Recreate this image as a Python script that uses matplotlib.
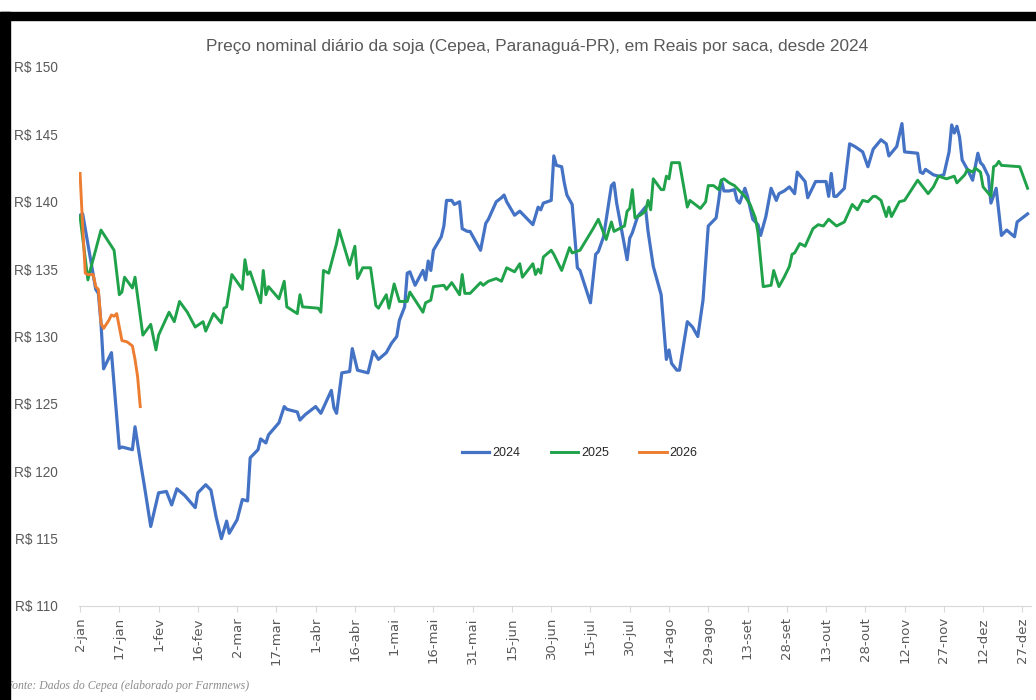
import matplotlib
matplotlib.use("Agg")
import matplotlib.pyplot as plt
from matplotlib.patches import Rectangle

# day of year (2024 calendar) and price in R$ per saca
days_2024 = [2, 3, 8, 9, 10, 11, 14, 17, 18, 22, 23, 25, 27, 29, 32, 35, 37, 39, 42, 46,
             47, 50, 52, 54, 56, 58, 59, 62, 64, 66, 67, 70, 71, 73, 74, 78, 80, 81, 85, 86,
             88, 92, 94, 98, 99, 100, 102, 105, 106, 108, 112, 114, 116, 119, 121, 123, 124, 126, 127, 128,
             130, 133, 134, 135, 136, 137, 140, 141, 142, 144, 145, 147, 148, 150, 151, 155, 157, 158, 161, 163,
             164, 165, 168, 170, 172, 175, 177, 178, 179, 182, 183, 184, 186, 187, 188, 190, 192, 193, 197, 199,
             200, 202, 205, 206, 207, 211, 212, 213, 215, 218, 219, 221, 224, 226, 227, 228, 230, 231, 234, 236,
             238, 240, 242, 245, 246, 247, 248, 250, 252, 253, 254, 256, 257, 259, 261, 262, 264, 266, 268, 269,
             271, 273, 275, 276, 279, 280, 283, 287, 288, 289, 290, 291, 294, 296, 298, 301, 303, 305, 308, 310,
             311, 314, 316, 317, 322, 323, 324, 325, 328, 330, 332, 334, 335, 336, 337, 338, 339, 341, 343, 345,
             346, 347, 349, 350, 352, 354, 356, 359, 360, 364]
price_2024 = [139.0, 139.1, 133.5, 133.2, 131.0, 127.6, 128.8, 121.7, 121.8, 121.6, 123.3, 120.8, 118.4, 115.9, 118.4, 118.5, 117.5, 118.7, 118.2, 117.3,
              118.4, 119.0, 118.6, 116.6, 115.0, 116.3, 115.4, 116.4, 117.9, 117.8, 121.0, 121.6, 122.4, 122.1, 122.7, 123.6, 124.8, 124.6, 124.4, 123.8,
              124.2, 124.8, 124.3, 126.0, 124.7, 124.3, 127.3, 127.4, 129.1, 127.5, 127.3, 128.9, 128.3, 128.8, 129.5, 130.0, 131.2, 132.2, 134.7, 134.8,
              133.8, 134.9, 134.2, 135.6, 134.9, 136.4, 137.4, 138.2, 140.1, 140.1, 139.8, 140.0, 138.0, 137.8, 137.8, 136.4, 138.4, 138.7, 140.0, 140.3,
              140.5, 140.0, 139.0, 139.3, 138.9, 138.3, 139.6, 139.4, 139.9, 140.1, 143.4, 142.7, 142.6, 141.4, 140.5, 139.8, 135.1, 134.9, 132.5, 136.1,
              136.3, 137.4, 141.2, 141.4, 139.9, 135.7, 137.3, 137.7, 138.9, 139.6, 137.8, 135.2, 133.1, 128.3, 129.0, 128.0, 127.5, 127.5, 131.1, 130.7,
              130.0, 132.7, 138.2, 138.8, 140.1, 141.6, 140.8, 140.8, 140.9, 140.1, 139.9, 141.0, 140.4, 138.7, 138.3, 137.5, 138.9, 141.0, 140.1, 140.6,
              140.8, 141.1, 140.6, 142.2, 141.5, 140.3, 141.5, 141.5, 140.4, 142.1, 140.4, 140.4, 141.0, 144.3, 144.1, 143.7, 142.6, 143.9, 144.6, 144.3,
              143.4, 144.1, 145.8, 143.7, 143.6, 142.2, 142.1, 142.4, 142.0, 141.9, 142.0, 143.7, 145.7, 145.1, 145.6, 144.8, 143.1, 142.4, 141.6, 143.6,
              142.9, 142.7, 141.9, 139.9, 141.0, 137.5, 137.9, 137.4, 138.5, 139.1]

days_2025 = [2, 5, 6, 10, 12, 15, 17, 18, 19, 22, 23, 26, 29, 31, 32, 36, 38, 40, 43, 46,
             49, 50, 53, 56, 57, 58, 60, 64, 65, 66, 67, 71, 72, 73, 74, 78, 80, 81, 85, 86,
             87, 93, 94, 95, 97, 100, 101, 105, 107, 108, 110, 113, 115, 116, 119, 120, 122, 124, 127, 128,
             130, 133, 134, 136, 137, 141, 142, 144, 147, 148, 149, 151, 155, 156, 158, 161, 163, 165, 168, 170,
             171, 175, 176, 177, 178, 179, 182, 183, 186, 189, 190, 193, 198, 200, 202, 203, 205, 206, 210, 211,
             212, 213, 214, 216, 218, 219, 220, 221, 224, 225, 226, 227, 228, 231, 234, 235, 239, 241, 242, 244,
             246, 247, 248, 250, 252, 254, 256, 258, 260, 261, 263, 266, 267, 269, 271, 273, 274, 275, 277, 279,
             282, 284, 286, 288, 291, 294, 297, 299, 301, 303, 305, 306, 308, 310, 311, 312, 315, 317, 322, 326,
             328, 330, 333, 336, 337, 340, 341, 343, 344, 346, 347, 350, 351, 352, 353, 354, 361, 364]
price_2025 = [138.9, 134.2, 135.0, 137.9, 137.3, 136.4, 133.1, 133.3, 134.4, 133.6, 134.4, 130.1, 130.9, 129.0, 130.1, 131.8, 131.1, 132.6, 131.8, 130.7,
              131.1, 130.4, 131.7, 131.0, 132.1, 132.2, 134.6, 133.5, 135.7, 134.6, 134.8, 132.5, 134.9, 133.1, 133.7, 132.8, 134.1, 132.2, 131.7, 133.1,
              132.2, 132.1, 131.8, 134.9, 134.7, 136.9, 137.9, 135.3, 136.7, 134.3, 135.1, 135.1, 132.3, 132.1, 133.1, 132.1, 133.9, 132.6, 132.6, 133.3,
              132.7, 131.8, 132.5, 132.7, 133.7, 133.8, 133.5, 134.0, 133.1, 134.6, 133.2, 133.2, 134.0, 133.8, 134.1, 134.3, 134.1, 135.1, 134.8, 135.4,
              134.4, 135.4, 134.6, 135.0, 134.7, 135.9, 136.4, 136.1, 134.9, 136.6, 136.2, 136.4, 138.0, 138.7, 137.7, 137.2, 138.5, 137.8, 138.2, 139.3,
              139.5, 140.9, 138.8, 139.0, 139.3, 140.1, 139.4, 141.7, 140.9, 140.9, 141.9, 141.7, 142.9, 142.9, 139.6, 140.1, 139.5, 140.0, 141.2, 141.2,
              140.9, 141.6, 141.7, 141.4, 141.2, 140.8, 140.4, 139.8, 138.8, 137.7, 133.7, 133.8, 134.9, 133.7, 134.4, 135.2, 136.1, 136.2, 136.9, 136.7,
              138.0, 138.3, 138.2, 138.7, 138.2, 138.5, 139.8, 139.4, 140.1, 140.0, 140.4, 140.4, 140.1, 138.9, 139.6, 138.9, 140.0, 140.1, 141.6, 140.6,
              141.1, 141.9, 141.7, 141.9, 141.4, 142.0, 142.4, 142.2, 142.5, 142.2, 141.1, 140.4, 142.6, 142.7, 143.0, 142.7, 142.6, 141.0]

days_2026 = [2, 3, 4, 5, 7, 8, 9, 10, 11, 13, 14, 15, 16, 18, 20, 22, 23, 24, 25]
price_2026 = [142.1, 138.2, 134.7, 134.6, 134.6, 133.7, 133.5, 131.0, 130.6, 131.2, 131.6, 131.5, 131.7, 129.7, 129.6, 129.3, 128.3, 127.0, 124.8]

tick_days = list(range(2, 363, 15))
tick_labels = ["2-jan", "17-jan", "1-fev", "16-fev", "2-mar", "17-mar", "1-abr", "16-abr", "1-mai",
               "16-mai", "31-mai", "15-jun", "30-jun", "15-jul", "30-jul", "14-ago", "29-ago", "13-set",
               "28-set", "13-out", "28-out", "12-nov", "27-nov", "12-dez", "27-dez"]
y_ticks = [110, 115, 120, 125, 130, 135, 140, 145, 150]

sans = ["Liberation Sans", "DejaVu Sans"]
grey = "#595959"

W, H = 1036, 700
fig = plt.figure(figsize=(W / 100, H / 100), dpi=100)
ax = fig.add_axes([79 / W, 1 - 606 / H, (1031 - 79) / W, (606 - 67) / H])

ax.plot(days_2024, price_2024, color="#4472C4", lw=2.3, label="2024", solid_joinstyle="round")
ax.plot(days_2025, price_2025, color="#1FA24A", lw=2.1, label="2025", solid_joinstyle="round")
ax.plot(days_2026, price_2026, color="#ED7D31", lw=2.1, label="2026", solid_joinstyle="round")

ax.set_xlim(1.6, 365.3)
ax.set_ylim(110, 150)
ax.set_yticks(y_ticks)
ax.set_yticklabels([f"R$ {v}" for v in y_ticks], fontfamily=sans, fontsize=9.8, color=grey)
ax.set_xticks(tick_days)
ax.set_xticklabels(tick_labels, rotation=90, fontfamily="DejaVu Sans", fontsize=9.5, color=grey)
ax.tick_params(axis="y", length=0, pad=15)
ax.tick_params(axis="x", length=4, color="#d9d9d9", pad=4)
for s in ["top", "right", "left"]:
    ax.spines[s].set_visible(False)
ax.spines["bottom"].set_color("#d9d9d9")

leg = ax.legend(loc="center", bbox_to_anchor=(0.526, 0.284), ncol=3, frameon=False,
                handlelength=2.2, handletextpad=0.25, columnspacing=2.4,
                prop={"family": sans, "size": 9})
for t in leg.get_texts():
    t.set_color("#262626")

fig.text(537 / W, 1 - 46 / H, "Preço nominal diário da soja (Cepea, Paranaguá-PR), em Reais por saca, desde 2024",
         ha="center", va="center", fontfamily=sans, fontsize=12.4, color=grey)
fig.text(5 / W, 1 - 686 / H, "Fonte: Dados do Cepea (elaborado por Farmnews)",
         ha="left", va="center", fontfamily="Liberation Serif", style="italic", fontsize=8.5, color="#8c8c8c")

# black frame of the screenshot
fig.patches.append(Rectangle((0, 1 - 20 / H), 1, 8 / H, transform=fig.transFigure,
                             color="black", zorder=10))
fig.patches.append(Rectangle((0, 0), 10 / W, 1 - 12 / H, transform=fig.transFigure,
                             color="black", zorder=10))

fig.savefig("out.png", dpi=100)
